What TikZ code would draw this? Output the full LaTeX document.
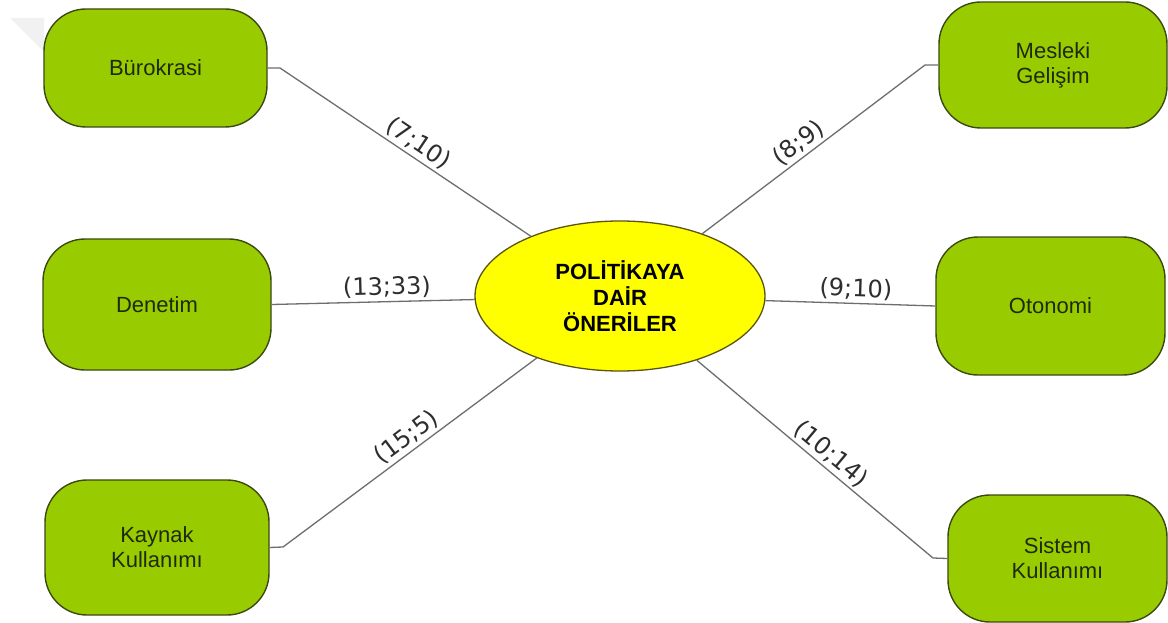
\documentclass[tikz,border=0pt]{standalone}
\usepackage{fontspec}
\setmainfont{Liberation Sans}
\newfontfamily\labelfont{DejaVu Sans}
\usetikzlibrary{shapes.geometric}

\definecolor{boxgreen}{HTML}{99CC00}
\definecolor{boxedge}{HTML}{3A4A12}
\definecolor{boxtext}{HTML}{1E2A0C}
\definecolor{hubfill}{HTML}{FFFF00}
\definecolor{hubedge}{HTML}{5A5410}
\definecolor{wire}{HTML}{6E6E6E}
\definecolor{labeltext}{HTML}{2E2E2E}
\definecolor{faint}{HTML}{F1F1F1}

\begin{document}
\begin{tikzpicture}[x=1pt,y=-1pt,
  topic/.style={draw=boxedge, line width=1.4pt, fill=boxgreen, rounded corners=42pt,
    align=center, text=boxtext, font=\fontsize{22}{25}\selectfont, inner sep=0pt},
  hub/.style={ellipse, draw=hubedge, line width=1.3pt, fill=hubfill,
    minimum width=290pt, minimum height=150pt, inner sep=0pt, align=center,
    font=\fontsize{22}{26}\selectfont\bfseries},
  link/.style={draw=wire, line width=1.3pt},
  weight/.style={font=\labelfont\fontsize{24}{24}\selectfont, text=labeltext,
    sloped, above=1.5pt, inner sep=1.5pt}]

\useasboundingbox (0,0) rectangle (1168,623);
\fill[white] (0,0) rectangle (1168,623);

% pale corner mark
\fill[faint] (10,18) -- (44,18) -- (44,52) -- cycle;

% elbow points of the diagonal connectors
\coordinate (buro-k) at (280,68);
\coordinate (kayn-k) at (283,547);
\coordinate (mesl-k) at (925,65);
\coordinate (sist-k) at (933,558);

% central topic
\node[hub] (hub) at (620,296) {POLİTİKAYA\\DAİR\\ÖNERİLER};

% left column
\node[topic, minimum width=223pt, minimum height=118pt] (buro) at (155.5,68) {Bürokrasi};
\node[topic, minimum width=228pt, minimum height=131pt] (dene) at (157,304.5) {Denetim};
\node[topic, minimum width=224pt, minimum height=135pt] (kayn) at (157,547.5) {Kaynak\\Kullanımı};

% right column
\node[topic, minimum width=228pt, minimum height=126pt] (mesl) at (1053,65) {Mesleki\\Gelişim};
\node[topic, minimum width=229pt, minimum height=138pt] (oton) at (1050.5,306) {Otonomi};
\node[topic, minimum width=219pt, minimum height=127pt] (sist) at (1057.5,558.5) {Sistem\\Kullanımı};

% connectors with their weights
\draw[link] (buro.east) -- (buro-k) -- node[weight, pos=0.52] {(7;10)} (hub);
\draw[link] (dene.east) -- node[weight, pos=0.57, above=0pt] {(13;33)} (hub);
\draw[link] (kayn.east) -- (kayn-k) -- node[weight, pos=0.52] {(15;5)} (hub);
\draw[link] (mesl.west) -- (mesl-k) -- node[weight, pos=0.53] {(8;9)} (hub);
\draw[link] (oton.west) -- node[weight, pos=0.47, above=0pt] {(9;10)} (hub);
\draw[link] (sist.west) -- (sist-k) -- node[weight, pos=0.47] {(10;14)} (hub);

\end{tikzpicture}
\end{document}
